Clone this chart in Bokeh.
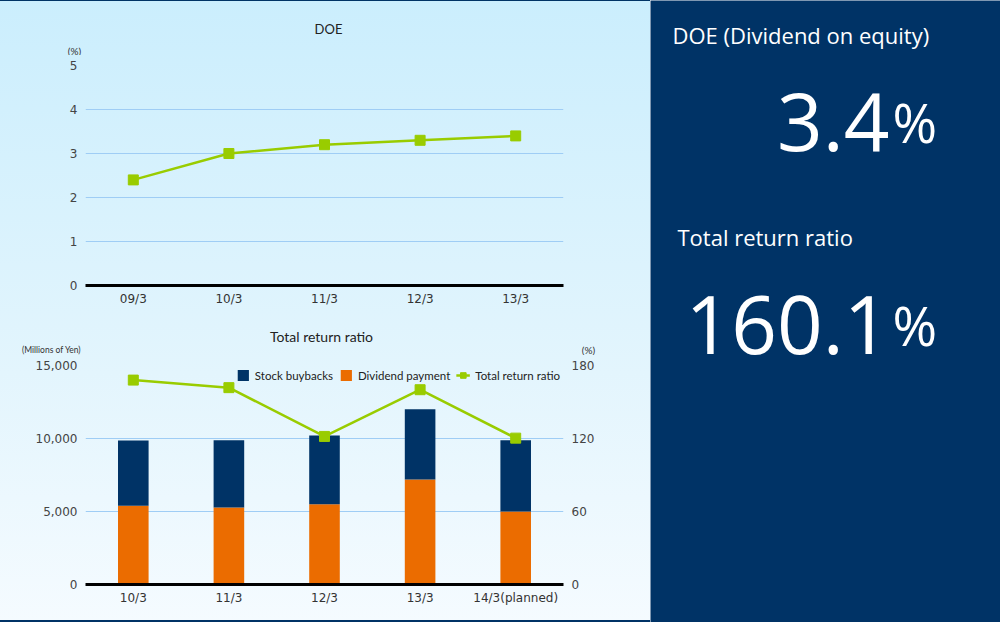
from bokeh.plotting import figure
from bokeh.models import (FactorRange, Range1d, LinearAxis, Legend, LegendItem, Label,
                          NumeralTickFormatter, FixedTicker, ColumnDataSource)
from bokeh.layouts import row, column
from bokeh.embed import file_html
from bokeh.resources import INLINE
from bokeh.core.properties import value

# ---------------- data ----------------
doe_years = ["09/3", "10/3", "11/3", "12/3", "13/3"]
doe_values = [2.4, 3.0, 3.2, 3.3, 3.4]

trr_years = ["10/3", "11/3", "12/3", "13/3", "14/3(planned)"]
dividend = [5400, 5270, 5500, 7200, 5000]
buyback = [4470, 4610, 4700, 4800, 4880]
trr = [168.0, 161.8, 121.7, 160.1, 120.3]

doe_ticks = [0, 1, 2, 3, 4, 5]
yen_ticks = [0, 5000, 10000, 15000]
pct_ticks = [0, 60, 120, 180]

# ---------------- styles ----------------
NAVY = "#003366"
ORANGE = "#eb6c00"
GREEN = "#99cc00"
GRID = "#9fcdf5"
TXT = "#333333"
FONT = "Lato"
TICK_FONT = "DejaVu Sans"
PANEL_FONT = "Open Sans"


def style_axes(p):
    p.background_fill_color = None
    p.border_fill_color = None
    p.outline_line_color = None
    p.xgrid.grid_line_color = None
    p.ygrid.grid_line_color = GRID
    p.ygrid.grid_line_width = 1
    xa = p.xaxis[0]
    xa.axis_line_color = "black"
    xa.axis_line_width = 3
    xa.major_tick_line_color = None
    xa.minor_tick_line_color = None
    xa.major_tick_out = 0
    xa.major_tick_in = 0
    xa.major_label_text_font = TICK_FONT
    xa.major_label_text_font_size = "12px"
    xa.major_label_text_color = TXT
    xa.major_label_standoff = 6
    for ya in p.yaxis:
        ya.axis_line_color = None
        ya.major_tick_line_color = None
        ya.minor_tick_line_color = None
        ya.major_tick_out = 0
        ya.major_tick_in = 0
        ya.major_label_text_font = TICK_FONT
        ya.major_label_text_font_size = "12px"
        ya.major_label_text_color = "#444444"
        ya.major_label_standoff = 8


def header(height):
    h = figure(width=650, height=height, x_range=Range1d(0, 650), y_range=Range1d(height, 0),
               x_axis_type=None, y_axis_type=None, output_backend="svg",
               toolbar_location=None, min_border=0)
    h.frame_align = False
    h.background_fill_color = None
    h.border_fill_color = None
    h.outline_line_color = None
    h.grid.grid_line_color = None
    return h


def htext(h, x, y, text, size, color=TXT, align="center"):
    h.text(x=[x], y=[y], text=[text], text_align=align, text_baseline="middle",
           text_font=value(FONT), text_font_size=size, text_color=color)


# ---------------- DOE chart ----------------
h1 = header(55)
htext(h1, 328, 28, "DOE", "13px", "#222222")
htext(h1, 74, 50, "(%)", "10px")

p1 = figure(width=650, height=260, x_range=FactorRange(*doe_years, range_padding=0),
            y_range=Range1d(0, 5), output_backend="svg", toolbar_location=None,
            min_border_left=85, min_border_right=87, min_border_top=10, min_border_bottom=30)
p1.yaxis[0].ticker = FixedTicker(ticks=doe_ticks)
style_axes(p1)
p1.line(x=doe_years, y=doe_values, line_color=GREEN, line_width=2.5)
p1.scatter(x=doe_years, y=doe_values, marker="square", size=10, fill_color=GREEN, line_color=GREEN)

# ---------------- Total return ratio chart ----------------
h2 = header(40)
htext(h2, 321, 21, "Total return ratio", "14px", "#222222")
htext(h2, 51, 34, "(Millions of Yen)", "8.5px")
htext(h2, 588, 34, "(%)", "10px")

src = ColumnDataSource(dict(year=trr_years, dividend=dividend, buyback=buyback))
p2 = figure(width=650, height=267, x_range=FactorRange(*trr_years, range_padding=0),
            y_range=Range1d(0, 15000), output_backend="svg", toolbar_location=None,
            min_border_left=85, min_border_right=86, min_border_top=10, min_border_bottom=38)
p2.extra_y_ranges = {"pct": Range1d(0, 180)}
right_ax = LinearAxis(y_range_name="pct", ticker=FixedTicker(ticks=pct_ticks))
p2.add_layout(right_ax, "right")
p2.yaxis[0].ticker = FixedTicker(ticks=yen_ticks)
p2.yaxis[0].formatter = NumeralTickFormatter(format="0,0")
style_axes(p2)

bars = p2.vbar_stack(["dividend", "buyback"], x="year", width=0.32, color=[ORANGE, NAVY],
                     line_color=None, source=src)
r_line = p2.line(x=trr_years, y=trr, y_range_name="pct", line_color=GREEN, line_width=2.5)
r_sc = p2.scatter(x=trr_years, y=trr, y_range_name="pct", marker="square", size=10,
                  fill_color=GREEN, line_color=GREEN)

legend = Legend(items=[LegendItem(label="Stock buybacks", renderers=[bars[1]]),
                       LegendItem(label="Dividend payment", renderers=[bars[0]]),
                       LegendItem(label="Total return ratio", renderers=[r_line, r_sc])],
                orientation="horizontal", location="top_right")
legend.background_fill_alpha = 0
legend.border_line_color = None
legend.label_text_font = FONT
legend.label_text_font_size = "11.5px"
legend.label_text_color = "#222222"
legend.glyph_width = 14
legend.glyph_height = 14
legend.label_height = 14
legend.label_standoff = 5
legend.spacing = 6
legend.padding = 0
legend.margin = 3
p2.add_layout(legend)

# ---------------- right panel ----------------
p3 = figure(width=350, height=622, x_range=Range1d(0, 350), y_range=Range1d(622, 0),
            x_axis_type=None, y_axis_type=None, output_backend="svg", toolbar_location=None,
            min_border=0)
p3.background_fill_color = NAVY
p3.border_fill_color = NAVY
p3.outline_line_color = None
p3.grid.grid_line_color = None


def plabel(x, y, text, size, align="left"):
    p3.add_layout(Label(x=x, y=y, text=text, text_align=align, text_baseline="alphabetic",
                        text_font=PANEL_FONT, text_font_size=size, text_color="white"))


plabel(22, 34, "DOE (Dividend on equity)", "22px")
plabel(239, 121, f"{doe_values[-1]}", "80px", "right")
plabel(242, 121, "%", "54px")
plabel(27, 236, "Total return ratio", "22px")
plabel(239, 324, f"{trr[3]}", "80px", "right")
plabel(242, 324, "%", "54px")

left = column(h1, p1, h2, p2, styles={
    "background": "linear-gradient(to bottom, #cbeefd 0%, #e3f5fd 60%, #f5fbff 100%)",
    "box-shadow": "inset 0 1px 0 #003366, inset 0 -2px 0 #003366",
})
layout = row(left, p3)

open("out.html", "w").write(file_html(layout, INLINE))
